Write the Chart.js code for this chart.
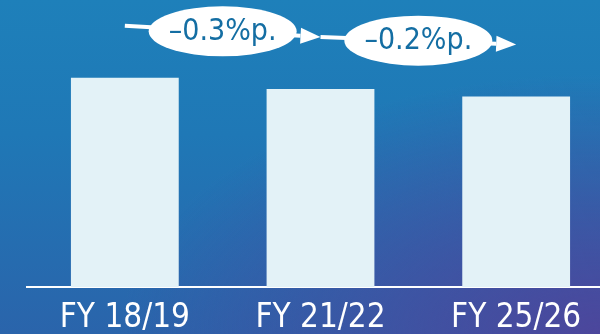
<!DOCTYPE html>
<html>
<head>
<meta charset="utf-8">
<script src="https://cdn.jsdelivr.net/npm/chart.js@4/dist/chart.umd.min.js"></script>
<style>
  html, body { margin: 0; padding: 0; width: 600px; height: 334px; overflow: hidden; }
  body {
    background:
      radial-gradient(ellipse 480px 260px at 100% 100%, rgba(76,70,156,1) 0%, rgba(76,70,156,0) 100%),
      linear-gradient(to bottom, #1e80ba 0%, #1f78b6 40%, #2a64ab 100%);
  }
  #wrap { position: absolute; left: 0; top: 0; width: 614px; height: 349px; }
</style>
</head>
<body>
<div id="wrap"><canvas id="c" width="614" height="349"></canvas></div>
<script>
const categories = ["FY 18/19", "FY 21/22", "FY 25/26"];
const values = [5.6, 5.3, 5.1];
const changeLabels = ["\u20130.3%p.", "\u20130.2%p."];

const FONT = "'DejaVu Sans Condensed', 'DejaVu Sans', sans-serif";

const changePlugin = {
  id: 'changeArrows',
  afterDatasetsDraw(chart) {
    const ctx = chart.ctx;
    const xs = chart.scales.x, ys = chart.scales.y;
    const lift = 52;
    ctx.save();
    for (let i = 0; i < changeLabels.length; i++) {
      const x1 = xs.getPixelForValue(i), y1 = ys.getPixelForValue(values[i]) - lift;
      const x2 = xs.getPixelForValue(i + 1), y2 = ys.getPixelForValue(values[i + 1]) - lift;
      const ang = Math.atan2(y2 - y1, x2 - x1);
      const headLen = 20, headHalf = 8;
      ctx.strokeStyle = '#ffffff';
      ctx.lineWidth = 4;
      ctx.beginPath();
      ctx.moveTo(x1, y1);
      ctx.lineTo(x2 - headLen * Math.cos(ang), y2 - headLen * Math.sin(ang));
      ctx.stroke();
      ctx.fillStyle = '#ffffff';
      ctx.beginPath();
      ctx.moveTo(x2, y2);
      const bx = x2 - headLen * Math.cos(ang), by = y2 - headLen * Math.sin(ang);
      ctx.lineTo(bx + headHalf * Math.sin(ang), by - headHalf * Math.cos(ang));
      ctx.lineTo(bx - headHalf * Math.sin(ang), by + headHalf * Math.cos(ang));
      ctx.closePath();
      ctx.fill();
      const cx = (x1 + x2) / 2, cy = (y1 + y2) / 2;
      ctx.beginPath();
      ctx.ellipse(cx, cy, 74, 25, 0, 0, Math.PI * 2);
      ctx.fill();
      ctx.fillStyle = '#146ea3';
      ctx.font = '30px ' + FONT;
      ctx.textAlign = 'center';
      ctx.textBaseline = 'middle';
      ctx.fillText(changeLabels[i], cx, cy + 1);
    }
    ctx.restore();
  }
};

new Chart(document.getElementById('c'), {
  type: 'bar',
  data: {
    labels: categories,
    datasets: [{
      data: values,
      backgroundColor: '#e3f2f7',
      borderWidth: 0,
      barPercentage: 0.551,
      categoryPercentage: 1
    }]
  },
  options: {
    responsive: false,
    animation: false,
    devicePixelRatio: 1,
    layout: { padding: { left: 27, right: 0, top: 0, bottom: 0 } },
    plugins: { legend: { display: false }, tooltip: { enabled: false } },
    scales: {
      x: {
        grid: { display: false, drawTicks: false },
        border: { display: true, color: '#ffffff', width: 2 },
        ticks: { color: '#ffffff', font: { family: FONT, size: 33, lineHeight: 0.97 }, padding: 15, maxRotation: 0, autoSkip: false }
      },
      y: {
        display: false,
        min: 0,
        max: 7.68
      }
    }
  },
  plugins: [changePlugin]
});
</script>
</body>
</html>
